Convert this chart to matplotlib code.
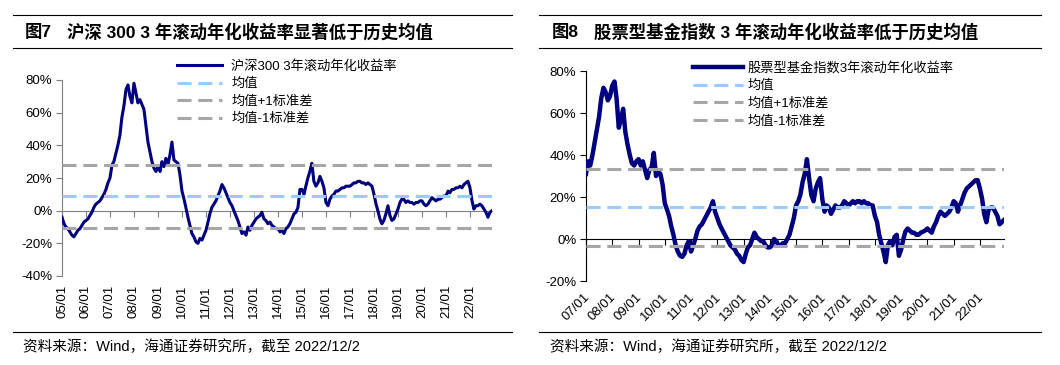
#!/usr/bin/env python3

"""Two panel chart: 3-year rolling annualised return vs. its historical mean."""

import matplotlib
matplotlib.use("Agg")
import matplotlib.pyplot as plt
from matplotlib.lines import Line2D
import pandas as pd

plt.rcParams['font.family'] = ['Liberation Sans', 'Noto Sans CJK SC']
plt.rcParams['axes.unicode_minus'] = False

FIG_W = 1060
FIG_H = 365

# monthly values (%)
HS300 = [
    -4, -8, -10, -11, -13, -15, -16, -14, -12, -11, -9, -7,       # 2005
    -6, -5, -3, -1, 2, 4, 5, 6, 8, 10, 13, 17,                    # 2006
    20, 28, 30, 35, 40, 46, 57, 64, 74, 77, 70, 66,               # 2007
    78, 72, 66, 68, 65, 62, 52, 42, 36, 30, 26, 24,               # 2008
    27, 24, 30, 27, 32, 28, 34, 42, 31, 30, 29, 22,               # 2009
    12, 7, 2, -4, -9, -14, -16, -19, -20, -17, -18, -15,          # 2010
    -12, -7, -2, 2, 4, 6, 9, 12, 16, 14, 11, 8,                   # 2011
    5, 3, 0, -3, -6, -10, -14, -13, -15, -10, -12, -9,            # 2012
    -7, -5, -4, -3, -1, -5, -6, -8, -7, -9, -10, -11,             # 2013
    -11, -13, -12, -14, -11, -10, -8, -5, -2, -1, 2, 13,          # 2014
    13, 10, 15, 20, 24, 29, 18, 15, 17, 21, 18, 14,               # 2015
    5, 3, 7, 9, 10, 12, 12, 13, 14, 14, 15, 15,                   # 2016
    15, 16, 17, 17, 18, 18, 17, 17, 16, 17, 16, 15,               # 2017
    10, 4, 0, -5, -8, -6, -2, 3, -3, -6, -5, -2,                  # 2018
    1, 5, 7, 7, 5, 6, 5, 5, 4, 5, 5, 6,                           # 2019
    6, 4, 3, 4, 6, 8, 7, 6, 7, 7, 8, 9,                           # 2020
    9, 12, 11, 13, 13, 14, 14, 15, 14, 16, 17, 18,                # 2021
    14, 6, 1, 3, 3, 4, 3, 1, -1, -4, -1, 0,                       # 2022
]
HS300_MEAN = 8.7
HS300_STD = 19.5

FUND = [
    31, 37, 35, 40, 46, 52, 58, 67, 72, 70, 66, 68,               # 2007
    73, 75, 67, 53, 57, 62, 51, 45, 40, 36, 35, 37,               # 2008
    38, 35, 37, 33, 29, 33, 34, 41, 30, 32, 31, 26,               # 2009
    17, 14, 11, 6, 2, -3, -6, -8, -8.5, -7, -3, -1,               # 2010
    -6, -3, 0, 4, 6, 7, 9, 11, 13, 15, 18, 13,                    # 2011
    10, 7, 5, 3, 1, -1, -3, -4, -5, -7, -8, -10,                  # 2012
    -11, -7, -4, -3, 0, 3, 1, 0, -1, -1, -3, -4,                  # 2013
    -4, -3, 0, -1, -3, -3, -2, -2, 0, 2, 6, 10,                   # 2014
    16, 18, 21, 27, 31, 38, 29, 21, 18, 24, 27, 29,               # 2015
    19, 13, 16, 15, 12, 14, 16, 15, 15, 16, 18, 17,               # 2016
    16, 17, 18, 17, 18, 18, 17, 18, 17, 17, 16, 16,               # 2017
    11, 8, 2, -2, -6, -11, -3, -1, -3, 1, 2, -8,                  # 2018
    -5, 0, 3.5, 5, 4, 3, 3, 2, 2, 3, 3.5, 4,                      # 2019
    5, 4, 3, 6, 8, 11, 13, 12, 11, 12, 13, 15,                    # 2020
    18, 17, 13, 16, 19, 22, 24, 25, 26, 27, 28, 28,               # 2021
    24, 19, 12, 8, 14, 15, 15, 13, 11, 7, 8, 9,                   # 2022
]
FUND_MEAN = 15.1
FUND_STD = 18.4

HS300_DATES = pd.date_range('2005-01-01', periods=len(HS300), freq='MS')
FUND_DATES = pd.date_range('2007-01-01', periods=len(FUND), freq='MS')

TITLES = [('图7', '沪深 300 3 年滚动年化收益率显著低于历史均值'),
          ('图8', '股票型基金指数 3 年滚动年化收益率低于历史均值')]
SERIES_NAMES = ['沪深300 3年滚动年化收益率', '股票型基金指数3年滚动年化收益率']
BAND_NAMES = ['均值', '均值+1标准差', '均值-1标准差']
SOURCE = '资料来源：Wind，海通证券研究所，截至 2022/12/2'

NAVY = '#000080'
LIGHT_BLUE = '#99CCFF'
GREY = '#A6A6A6'


def fx(px):
    return px / FIG_W


def fy(py):
    return 1 - py / FIG_H


def hline(fig, x0, x1, y):
    fig.add_artist(Line2D([fx(x0), fx(x1)], [fy(y), fy(y)], color='black',
                          linewidth=0.8, transform=fig.transFigure))


def panel(fig, rect, dates, values, mean, std, yticks, name, lw, axis_color,
          label_rot, label_y, leg_xy, leg_handle, leg_pad):
    """draw one chart panel; rect is (left, top, right, bottom) in pixels"""
    left, top, right, bottom = rect
    ax = fig.add_axes([fx(left), fy(bottom), fx(right - left), (bottom - top) / FIG_H])
    ln, = ax.plot(dates, values, color=NAVY, linewidth=lw, zorder=3,
                  solid_joinstyle='round')
    handles = [ln]
    for val, col in [(mean, LIGHT_BLUE), (mean + std, GREY), (mean - std, GREY)]:
        h = ax.axhline(val, color=col, linewidth=2.2, linestyle=(0, (4.6, 2.2)), zorder=4)
        handles.append(h)
    ax.set_xlim(dates[0], pd.Timestamp('2022-12-02'))
    ax.set_ylim(yticks[0], yticks[-1])
    ax.set_yticks(yticks)
    ax.set_yticklabels([f'{t}%' for t in yticks])
    ax.tick_params(axis='y', direction='out', length=4, width=0.8, labelsize=9.5,
                   pad=3, color=axis_color)
    for s in ['top', 'right']:
        ax.spines[s].set_visible(False)
    ax.spines['left'].set_color(axis_color)
    ax.spines['bottom'].set_position(('data', 0))
    ax.spines['bottom'].set_color(axis_color)
    ax.set_facecolor('none')

    ticks = pd.date_range(dates[0], '2022-01-01', freq='YS')
    ax.set_xticks(ticks)
    ax.tick_params(axis='x', direction='out', length=4, width=0.8, labelbottom=False,
                   color=axis_color)
    trans = ax.get_xaxis_transform()
    for t in ticks:
        lab = t.strftime('%y/%m')
        if label_rot == 90:
            ax.text(t, label_y, lab, transform=trans, rotation=90, ha='center',
                    va='top', fontsize=9.5)
        else:
            ax.text(t + pd.Timedelta(days=25), label_y, lab, transform=trans,
                    rotation=45, ha='right', va='center', rotation_mode='anchor',
                    fontsize=9.5)

    ax.legend(handles, [name] + BAND_NAMES, loc='upper left',
              bbox_to_anchor=(fx(leg_xy[0]), fy(leg_xy[1])),
              bbox_transform=fig.transFigure, frameon=False, fontsize=9.5,
              handlelength=leg_handle, handletextpad=leg_pad, labelspacing=0.4,
              borderpad=0, borderaxespad=0)
    return ax


def main():
    fig = plt.figure(figsize=(FIG_W / 100, FIG_H / 100), dpi=100)

    # frame lines and texts
    for x0, x1, tx, (num, title) in [(13, 512, 25, TITLES[0]), (539, 1041, 552, TITLES[1])]:
        hline(fig, x0, x1, 15)
        hline(fig, x0, x1, 48)
        hline(fig, x0, x1, 332)
        fig.text(fx(tx), fy(32), num, fontsize=12.5, fontweight='bold', va='center')
        fig.text(fx(tx + 42), fy(32), title, fontsize=12.5, fontweight='bold', va='center')
        fig.text(fx(tx - 2), fy(347), SOURCE, fontsize=10.5, va='center')

    panel(fig, (62, 80, 492, 276), HS300_DATES, HS300, HS300_MEAN, HS300_STD,
          [-40, -20, 0, 20, 40, 60, 80], SERIES_NAMES[0], 2.2, '#7F7F7F',
          90, -9 / 196, (177, 60), 3.4, 0.7)
    panel(fig, (586, 71, 1004, 281), FUND_DATES, FUND, FUND_MEAN, FUND_STD,
          [-20, 0, 20, 40, 60, 80], SERIES_NAMES[1], 3.2, 'black',
          45, -14 / 210, (693, 62), 3.8, 0.3)

    fig.savefig('out.png', dpi=100)


if __name__ == "__main__":
    main()
